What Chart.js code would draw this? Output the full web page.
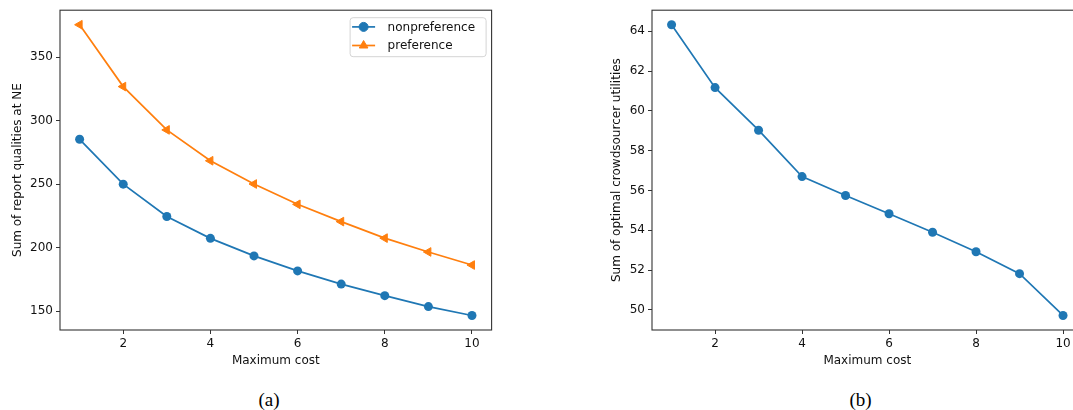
<!DOCTYPE html>
<html>
<head>
<meta charset="utf-8">
<script src="https://cdn.jsdelivr.net/npm/chart.js@4.4.0/dist/chart.umd.min.js"></script>
<style>
  html, body { margin: 0; padding: 0; background: #fff; overflow: hidden; width: 1073px; height: 410px; }
  canvas { position: absolute; top: 0; }
  #chartA { left: 0; }
  #chartB { left: 592px; }
  .cap { position: absolute; top: 389.5px; line-height: 20px; font-size: 19px; font-family: "Liberation Serif", "Times New Roman", serif; color: #000; transform: translateX(-50%); }
</style>
</head>
<body>
<canvas id="chartA" width="505" height="380"></canvas>
<canvas id="chartB" width="500" height="380"></canvas>
<div class="cap" style="left:269px">(a)</div>
<div class="cap" style="left:860.5px">(b)</div>
<script>
// values
const maxCost = [1, 2, 3, 4, 5, 6, 7, 8, 9, 10];
const nonpreference = [285.3, 250, 224.5, 207.3, 193.5, 181.7, 171.3, 162.2, 153.6, 146.6];
const preference = [375.5, 326.8, 292.7, 268.4, 250.1, 234.1, 220.5, 207.5, 196.6, 186.3];
const crowdsourcerUtil = [64.33, 61.17, 59.03, 56.70, 55.75, 54.83, 53.90, 52.92, 51.82, 49.72];

const xTicks = [2, 4, 6, 8, 10];
const yTicksA = [150, 200, 250, 300, 350];
const yTicksB = [50, 52, 54, 56, 58, 60, 62, 64];

const BLUE = '#1f77b4';
const ORANGE = '#ff7f0e';
const font = { family: 'DejaVu Sans', size: 12 };

Chart.defaults.font.family = 'DejaVu Sans';

// matplotlib style 5% margins
function padRange(vals) {
  const lo = Math.min(...vals), hi = Math.max(...vals);
  const m = (hi - lo) * 0.05;
  return [lo - m, hi + m];
}

const toXY = ys => ys.map((y, i) => ({ x: maxCost[i], y }));

// box round the plot area (spines)
const frame = {
  id: 'frame',
  afterDraw(chart) {
    const { ctx, chartArea: a } = chart;
    ctx.save();
    ctx.strokeStyle = '#333';
    ctx.lineWidth = 1.1;
    ctx.strokeRect(a.left, a.top, a.right - a.left, a.bottom - a.top);
    ctx.restore();
  }
};

// legend drawn inside the plot, upper right
const boxLegend = {
  id: 'boxLegend',
  afterDraw(chart, args, opts) {
    if (!opts.show) return;
    const { ctx, chartArea: a } = chart;
    const w = 136, h = 39;
    const x = a.right - 6 - w, y = a.top + 7;
    ctx.save();
    ctx.fillStyle = 'rgba(255,255,255,0.8)';
    ctx.strokeStyle = '#d4d4d4';
    ctx.lineWidth = 1;
    ctx.beginPath();
    ctx.roundRect(x + 0.5, y + 0.5, w, h, 3);
    ctx.fill();
    ctx.stroke();
    chart.data.datasets.forEach((ds, i) => {
      const ly = y + 9.7 + i * 18.6;
      ctx.strokeStyle = ds.borderColor;
      ctx.lineWidth = 1.7;
      ctx.beginPath();
      ctx.moveTo(x + 2.5, ly);
      ctx.lineTo(x + 25.5, ly);
      ctx.stroke();
      ctx.fillStyle = ds.backgroundColor;
      ctx.lineWidth = 1;
      Chart.helpers.drawPoint(ctx, { pointStyle: ds.pointStyle, rotation: 0, radius: ds.pointRadius, borderWidth: 1 }, x + 14, ly);
      ctx.fillStyle = '#111';
      ctx.font = '12px "DejaVu Sans"';
      ctx.textBaseline = 'middle';
      ctx.fillText(ds.label, x + 38, ly + 0.5);
    });
    ctx.restore();
  }
};

function makeOptions(yRange, yTicks, yTitle, yTitlePad, padding, withLegend) {
  const xRange = padRange(maxCost);
  return {
    responsive: false,
    animation: false,
    layout: { padding },
    plugins: { legend: { display: false }, tooltip: { enabled: false }, boxLegend: { show: withLegend } },
    scales: {
      x: {
        type: 'linear', min: xRange[0], max: xRange[1],
        afterBuildTicks: s => { s.ticks = xTicks.map(v => ({ value: v })); },
        afterFit: s => { s.height = 50; },
        grid: { drawOnChartArea: false, drawTicks: true, tickLength: 4, tickColor: '#333', tickWidth: 1 },
        border: { display: false },
        ticks: { color: '#111', font, padding: 3, maxRotation: 0, autoSkip: false },
        title: { display: true, text: 'Maximum cost', color: '#111', font, padding: { top: 0, bottom: 12.1 } }
      },
      y: {
        type: 'linear', min: yRange[0], max: yRange[1],
        afterBuildTicks: s => { s.ticks = yTicks.map(v => ({ value: v })); },
        afterFit: s => { s.width = 60; },
        grid: { drawOnChartArea: false, drawTicks: true, tickLength: 4, tickColor: '#333', tickWidth: 1 },
        border: { display: false },
        ticks: { color: '#111', font, padding: 3, autoSkip: false },
        title: { display: true, text: yTitle, color: '#111', font, padding: { top: yTitlePad, bottom: 0 } }
      }
    }
  };
}

new Chart(document.getElementById('chartA'), {
  type: 'line',
  data: {
    datasets: [{
      label: 'nonpreference',
      data: toXY(nonpreference),
      borderColor: BLUE, backgroundColor: BLUE,
      borderWidth: 1.7, pointStyle: 'circle', pointRadius: 4.5, pointBorderWidth: 0,
      tension: 0, clip: false
    }, {
      label: 'preference',
      data: toXY(preference),
      borderColor: ORANGE, backgroundColor: ORANGE,
      borderWidth: 1.7, pointStyle: 'triangle', pointRotation: -90, pointRadius: 5, pointBorderWidth: 1,
      tension: 0, clip: false
    }]
  },
  options: makeOptions(padRange(nonpreference.concat(preference)), yTicksA,
    'Sum of report qualities at NE', 10.8, { left: 0, top: 9, right: 13.4, bottom: 0 }, true),
  plugins: [frame, boxLegend]
});

new Chart(document.getElementById('chartB'), {
  type: 'line',
  data: {
    datasets: [{
      label: 'utility',
      data: toXY(crowdsourcerUtil),
      borderColor: BLUE, backgroundColor: BLUE,
      borderWidth: 1.7, pointStyle: 'circle', pointRadius: 4.5, pointBorderWidth: 0,
      tension: 0, clip: false
    }]
  },
  options: makeOptions(padRange(crowdsourcerUtil), yTicksB,
    'Sum of optimal crowdsourcer utilities', 17.8, { left: 0, top: 10, right: 9.4, bottom: 0 }, false),
  plugins: [frame, boxLegend]
});
</script>
</body>
</html>
